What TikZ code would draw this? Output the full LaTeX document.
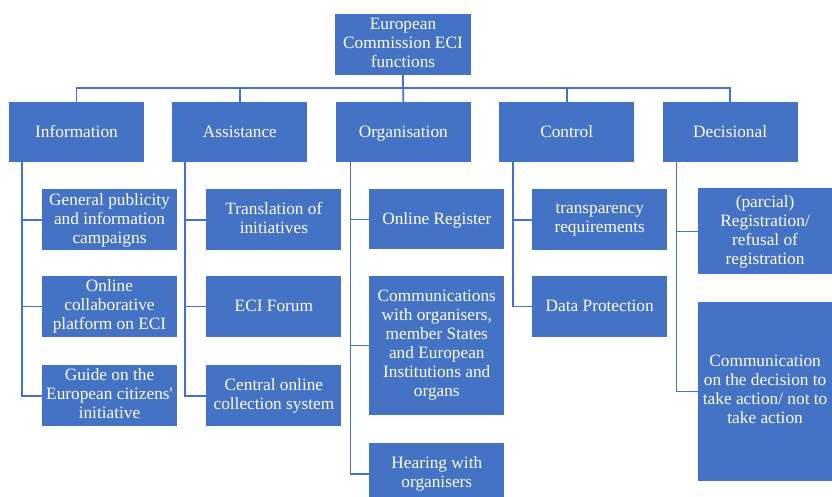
\documentclass[tikz,border=0pt]{standalone}
\usepackage{fontspec}
\setmainfont{Liberation Serif}
\usetikzlibrary{positioning}
\definecolor{eciblue}{HTML}{4472C4}
\newcommand\eciStrut{\rule[-3.5pt]{0pt}{17.5pt}}

\begin{document}
\begin{tikzpicture}[
        x=1pt, y=-1pt,
        node distance=28pt,
        box/.style={
            fill=eciblue,
            text=white,
            align=center,
            inner sep=0pt,
            font=\fontsize{17.3}{19}\selectfont,
            execute at begin node=\eciStrut,
            execute at end node=\eciStrut
        },
        head/.style={box, minimum width=135pt, minimum height=60pt},
        leaf/.style={box, minimum width=135pt, minimum height=61pt},
        link/.style={draw=eciblue, line width=1.6pt}
    ]
        \useasboundingbox (0,0) rectangle (832,497);

        \node[box, minimum width=136pt, minimum height=61pt] (root) at (403,44.5) {European\\Commission ECI\\functions};

        \node[head] (info) at (76.5,132) {Information};
        \node[head, right=of info] (assist) {Assistance};
        \node[head, right=of assist] (organ) {Organisation};
        \node[head, right=of organ] (control) {Control};
        \node[head, right=of control] (decis) {Decisional};

        % information
        \node[leaf, below=27pt of info, xshift=33pt] (inf1) {General publicity\\and information\\campaigns};
        \node[leaf, below=25pt of inf1] (inf2) {Online\\collaborative\\platform on ECI};
        \node[leaf, below=28pt of inf2] (inf3) {Guide on the\\European citizens\textquotesingle\\initiative};

        % assistance
        \node[leaf, below=27pt of assist, xshift=34pt] (ass1) {Translation of\\initiatives};
        \node[leaf, below=25pt of ass1] (ass2) {ECI Forum};
        \node[leaf, below=28pt of ass2] (ass3) {Central online\\collection system};

        % organisation
        \node[leaf, below=27pt of organ, xshift=33.5pt, minimum height=60pt] (org1) {Online Register};
        \node[leaf, below=26pt of org1, minimum height=139pt] (org2) {Communications\\with organisers,\\member States\\and European\\Institutions and\\organs};
        \node[leaf, below=28pt of org2, minimum height=61pt] (org3) {Hearing with\\organisers};

        % control
        \node[leaf, below=27pt of control, xshift=33pt] (con1) {transparency\\requirements};
        \node[leaf, below=25pt of con1] (con2) {Data Protection};

        % decisional
        \node[leaf, below=26pt of decis, xshift=35pt, minimum width=134pt, minimum height=86pt] (dec1) {(parcial)\\Registration/\\refusal of\\registration};
        \node[leaf, below=27pt of dec1, minimum width=134pt, minimum height=179pt] (dec2) {Communication\\on the decision to\\take action/ not to\\take action};

        \draw[link] (root.south) -- ++(0,13) -| (info.north);
        \draw[link] (root.south) -- ++(0,13) -| (assist.north);
        \draw[link] (root.south) -- (organ.north);
        \draw[link] (root.south) -- ++(0,13) -| (control.north);
        \draw[link] (root.south) -- ++(0,13) -| (decis.north);

        \draw[link] (info.south west) ++(13,0) |- (inf1.west);
        \draw[link] (info.south west) ++(13,0) |- (inf2.west);
        \draw[link] (info.south west) ++(13,0) |- (inf3.west);

        \draw[link] (assist.south west) ++(13,0) |- (ass1.west);
        \draw[link] (assist.south west) ++(13,0) |- (ass2.west);
        \draw[link] (assist.south west) ++(13,0) |- (ass3.west);

        \draw[link] (organ.south west) ++(15,0) |- (org1.west);
        \draw[link] (organ.south west) ++(15,0) |- (org2.west);
        \draw[link] (organ.south west) ++(15,0) |- (org3.west);

        \draw[link] (control.south west) ++(14,0) |- (con1.west);
        \draw[link] (control.south west) ++(14,0) |- (con2.west);

        \draw[link] (decis.south west) ++(14,0) |- (dec1.west);
        \draw[link] (decis.south west) ++(14,0) |- (dec2.west);
    \end{tikzpicture}
\end{document}
